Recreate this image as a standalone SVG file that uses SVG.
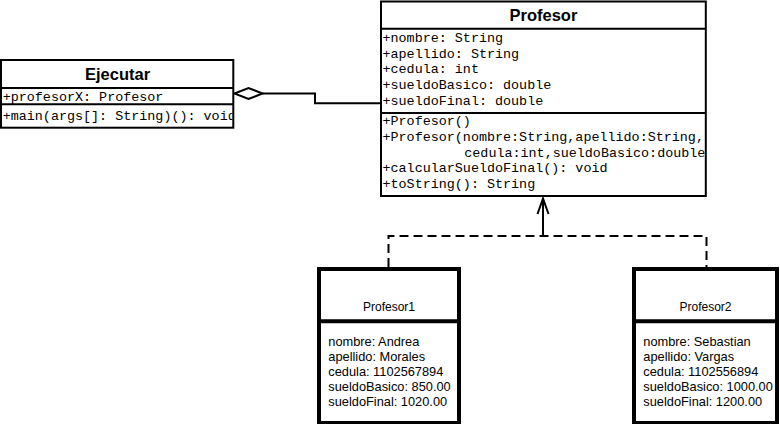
<svg xmlns="http://www.w3.org/2000/svg" width="780" height="424" viewBox="0 0 780 424">
<style>
.box{fill:#fff;stroke:#000;stroke-width:2}
.ibox{fill:#fff;stroke:#000;stroke-width:4}
.div{stroke:#000;stroke-width:2}
.idiv{stroke:#000;stroke-width:4}
.title{font-family:"Liberation Sans",Arial,sans-serif;font-weight:bold;font-size:16.5px;text-anchor:middle;fill:#000}
.mono{font-family:"Liberation Mono","Courier New",monospace;font-size:13.4px;fill:#000}
.ititle{font-family:"Liberation Sans",Arial,sans-serif;font-size:12px;text-anchor:middle;fill:#000}
.itext{font-family:"Liberation Sans",Arial,sans-serif;font-size:12.8px;fill:#000}
.line{fill:none;stroke:#000;stroke-width:2}
.dash{fill:none;stroke:#000;stroke-width:2;stroke-dasharray:9 5}
</style>
<defs>
<clipPath id="clipE"><rect x="0" y="60" width="232.5" height="68"/></clipPath>
<clipPath id="clipP"><rect x="381" y="1" width="324" height="195"/></clipPath>
</defs>
<rect width="780" height="424" fill="#fff"/>
<g id="connectors">
<polyline class="line" points="262,93.5 315,93.5 315,103.3 381,103.3"/>
<polygon points="234.5,93.5 248.5,88 262.5,93.5 248.5,99" fill="#fff" stroke="#000" stroke-width="2"/>
<polyline class="dash" points="388.5,267 388.5,236 706.5,236 706.5,267"/>
<line class="line" x1="543" y1="236" x2="543" y2="199"/>
<polyline class="line" points="537.5,214 543,198.5 548.5,214"/>
</g>
<g id="Ejecutar">
<rect class="box" x="1" y="60" width="232.3" height="67.7"/>
<line class="div" x1="1" y1="88" x2="233.3" y2="88"/>
<line class="div" x1="1" y1="104.3" x2="233.3" y2="104.3"/>
<text class="title" x="117.5" y="80">Ejecutar</text>
<g clip-path="url(#clipE)">
<text class="mono" x="2.7" y="100.5">+profesorX: Profesor</text>
<text class="mono" x="2.7" y="119.5">+main(args[]: String)(): void</text>
</g>
</g>
<g id="Profesor">
<rect class="box" x="381" y="1.5" width="324.8" height="194.5"/>
<line class="div" x1="381" y1="28.7" x2="705.8" y2="28.7"/>
<line class="div" x1="381" y1="113" x2="705.8" y2="113"/>
<text class="title" x="543.4" y="20.7">Profesor</text>
<g clip-path="url(#clipP)">
<text class="mono" x="382.5" y="41.7">+nombre: String</text>
<text class="mono" x="382.5" y="57.5">+apellido: String</text>
<text class="mono" x="382.5" y="73.3">+cedula: int</text>
<text class="mono" x="382.5" y="89.1">+sueldoBasico: double</text>
<text class="mono" x="382.5" y="104.9">+sueldoFinal: double</text>
<text class="mono" x="382.5" y="125">+Profesor()</text>
<text class="mono" x="382.5" y="140.8">+Profesor(nombre:String,apellido:String,</text>
<text class="mono" x="464.3" y="156.6">cedula:int,sueldoBasico:double)</text>
<text class="mono" x="382.5" y="172.4">+calcularSueldoFinal(): void</text>
<text class="mono" x="382.5" y="188.2">+toString(): String</text>
</g>
</g>
<g id="Profesor1">
<rect class="ibox" x="319" y="269" width="140" height="154"/>
<line class="idiv" x1="319" y1="321.3" x2="459" y2="321.3"/>
<text class="ititle" x="389" y="311">Profesor1</text>
<text class="itext" x="328.3" y="345.5">nombre: Andrea</text>
<text class="itext" x="328.3" y="360.5">apellido: Morales</text>
<text class="itext" x="328.3" y="375.5">cedula: 1102567894</text>
<text class="itext" x="328.3" y="390.5">sueldoBasico: 850.00</text>
<text class="itext" x="328.3" y="405.5">sueldoFinal: 1020.00</text>
</g>
<g id="Profesor2">
<rect class="ibox" x="634" y="269" width="143" height="154"/>
<line class="idiv" x1="634" y1="321.3" x2="777" y2="321.3"/>
<text class="ititle" x="705.5" y="311">Profesor2</text>
<text class="itext" x="643.3" y="345.5">nombre: Sebastian</text>
<text class="itext" x="643.3" y="360.5">apellido: Vargas</text>
<text class="itext" x="643.3" y="375.5">cedula: 1102556894</text>
<text class="itext" x="643.3" y="390.5">sueldoBasico: 1000.00</text>
<text class="itext" x="643.3" y="405.5">sueldoFinal: 1200.00</text>
</g>
</svg>
